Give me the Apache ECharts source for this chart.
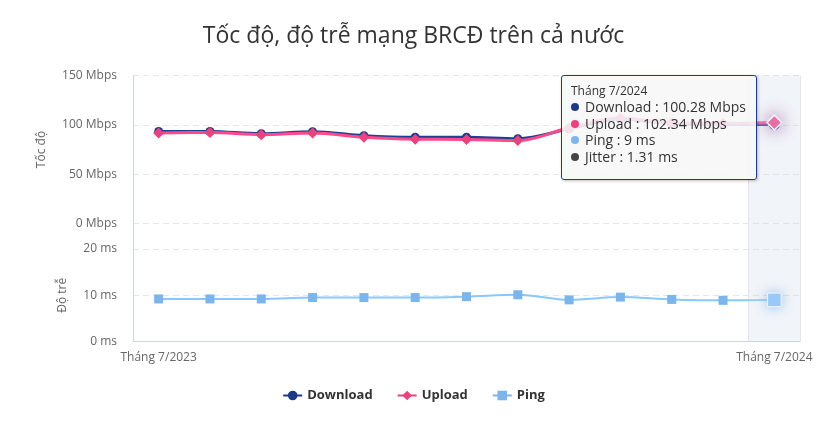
<!DOCTYPE html>
<html>
<head>
<meta charset="utf-8">
<script src="https://cdn.jsdelivr.net/npm/echarts@6/dist/echarts.min.js"></script>
<style>
html,body{margin:0;padding:0;background:#fff;}
#chart{width:827px;height:421px;}
</style>
</head>
<body>
<div id="chart"></div>
<script>
const titleText = 'Tốc độ, độ trễ mạng BRCĐ trên cả nước';
const categories = ['Tháng 7/2023','Tháng 8/2023','Tháng 9/2023','Tháng 10/2023','Tháng 11/2023','Tháng 12/2023','Tháng 1/2024','Tháng 2/2024','Tháng 3/2024','Tháng 4/2024','Tháng 5/2024','Tháng 6/2024','Tháng 7/2024'];
const download = [93.3, 93.3, 91.0, 93.0, 89.0, 87.4, 87.4, 86.0, 96.0, 106.0, 101.0, 100.5, 100.28];
const upload   = [91.8, 92.2, 90.0, 91.8, 87.4, 85.4, 85.2, 84.0, 97.0, 107.0, 102.0, 101.5, 102.34];
const ping     = [9.2, 9.2, 9.2, 9.5, 9.5, 9.5, 9.7, 10.1, 9.0, 9.6, 9.1, 8.9, 9];
const jitter   = [null, null, null, null, null, null, null, null, null, null, null, null, 1.31];
const speedTicks = [0, 50, 100, 150];
const latencyTicks = [0, 10, 20];

const C_DL = '#1d3a86', C_UL = '#e8437f', C_PING = '#7cb5ec', C_JIT = '#434348';
const FONT = '"Open Sans", "Noto Sans", sans-serif';
const chart = echarts.init(document.getElementById('chart'), null, {renderer: 'canvas'});

const gridL = 133, gridR = 27;
const dot = c => '<span style="display:inline-block;width:8px;height:8px;border-radius:4px;background:' + c + ';margin-right:6px;vertical-align:1px"></span>';

const option = {
  backgroundColor: '#fff',
  animation: false,
  title: {
    text: titleText, left: 'center', top: 20,
    textStyle: {fontFamily: FONT, fontSize: 23, fontWeight: 'normal', color: '#333'}
  },
  legend: {
    top: 384, left: 'center', itemGap: 24, itemWidth: 19, itemHeight: 12,
    data: ['Download', 'Upload', 'Ping'],
    textStyle: {fontFamily: FONT, fontSize: 13, fontWeight: 'bold', color: '#333'}
  },
  axisPointer: {link: [{xAxisIndex: 'all'}]},
  tooltip: {
    trigger: 'axis', triggerOn: 'none', alwaysShowContent: true,
    backgroundColor: 'rgba(247,247,247,0.88)', borderColor: C_DL, borderWidth: 1,
    padding: [7, 10, 14, 9],
    extraCssText: 'border-radius:3px;box-shadow:1px 1px 3px rgba(0,0,0,0.25);',
    textStyle: {fontFamily: FONT, fontSize: 14, color: '#333'},
    position: function (point, params, dom, rect, size) {
      return [point[0] - size.contentSize[0] - 17, point[1] - 48];
    },
    formatter: function (params) {
      const i = params[0].dataIndex;
      return '<div style="font-size:12px;line-height:16px">' + categories[i] + '</div>' +
        '<div style="line-height:16.5px">' + dot(C_DL) + 'Download : ' + download[i] + ' Mbps<br>' +
        dot(C_UL) + 'Upload : ' + upload[i] + ' Mbps<br>' +
        dot(C_PING) + 'Ping : ' + ping[i] + ' ms<br>' +
        dot(C_JIT) + 'Jitter : ' + jitter[i] + ' ms</div>';
    }
  },
  grid: [
    {left: gridL, right: gridR, top: 75.5, height: 148},
    {left: gridL, right: gridR, top: 249, bottom: 79.5},
    {left: gridL, right: gridR, top: 75.5, bottom: 79.5}
  ],
  xAxis: [
    {type: 'category', gridIndex: 0, data: categories, boundaryGap: true,
     axisLine: {show: false}, axisTick: {show: false}, axisLabel: {show: false}, splitLine: {show: false},
     axisPointer: {type: 'none', label: {show: false}}},
    {type: 'category', gridIndex: 1, data: categories, boundaryGap: true,
     axisLine: {show: false}, axisTick: {show: false}, axisLabel: {show: false}, splitLine: {show: false},
     axisPointer: {type: 'none', label: {show: false}}},
    {type: 'category', gridIndex: 2, data: categories, boundaryGap: true, z: 0,
     axisLine: {show: true, lineStyle: {color: '#ccd6eb', width: 1}},
     axisTick: {show: false},
     axisLabel: {interval: 11, margin: 10, fontFamily: FONT, fontSize: 12, color: '#666'},
     splitLine: {show: true, lineStyle: {color: '#e6e6e6', width: 1}},
     axisPointer: {show: true, type: 'shadow', triggerTooltip: false, label: {show: false},
       shadowStyle: {color: 'rgba(204,214,235,0.28)'}}}
  ],
  yAxis: [
    {type: 'value', gridIndex: 0, min: speedTicks[0], max: speedTicks[speedTicks.length - 1], interval: 50,
     name: 'Tốc độ', nameLocation: 'middle', nameGap: 85, nameRotate: 90,
     nameTextStyle: {fontFamily: FONT, fontSize: 12, color: '#666'},
     axisLine: {show: false}, axisTick: {show: false},
     axisLabel: {margin: 16, fontFamily: FONT, fontSize: 12, color: '#666', formatter: v => v + ' Mbps'},
     splitLine: {show: true, lineStyle: {color: '#e6e6e6', type: [6, 4], width: 1}}},
    {type: 'value', gridIndex: 1, min: latencyTicks[0], max: latencyTicks[latencyTicks.length - 1], interval: 10,
     name: 'Độ trễ', nameLocation: 'middle', nameGap: 64, nameRotate: 90,
     nameTextStyle: {fontFamily: FONT, fontSize: 12, color: '#666'},
     axisLine: {show: false}, axisTick: {show: false},
     axisLabel: {margin: 16, fontFamily: FONT, fontSize: 12, color: '#666', formatter: v => v + ' ms'},
     splitLine: {show: true, lineStyle: {color: '#e6e6e6', type: [6, 4], width: 1}}},
    {type: 'value', gridIndex: 2, min: 0, max: 1, z: 0,
     axisLine: {show: true, lineStyle: {color: '#ccd6eb', width: 1}},
     axisTick: {show: false}, axisLabel: {show: false}, splitLine: {show: false}}
  ],
  series: [
    {name: 'Download', type: 'line', xAxisIndex: 0, yAxisIndex: 0, data: download,
     smooth: 0.35, symbol: 'circle', symbolSize: 9, showAllSymbol: true,
     lineStyle: {color: C_DL, width: 3}, itemStyle: {color: C_DL},
     emphasis: {scale: 1.3, itemStyle: {borderColor: '#fff', borderWidth: 1}}, z: 3},
    {name: 'Upload', type: 'line', xAxisIndex: 0, yAxisIndex: 0, data: upload,
     smooth: 0.35, symbol: 'diamond', symbolSize: 11, showAllSymbol: true,
     lineStyle: {color: C_UL, width: 3}, itemStyle: {color: C_UL},
     emphasis: {scale: 1.35, itemStyle: {borderColor: '#fff', borderWidth: 1.5,
       shadowBlur: 16, shadowColor: 'rgba(140,50,130,0.9)'}}, z: 4},
    {name: 'Ping', type: 'line', xAxisIndex: 1, yAxisIndex: 1, data: ping,
     smooth: 0.35, symbol: 'rect', symbolSize: 9, showAllSymbol: true,
     lineStyle: {color: C_PING, width: 2}, itemStyle: {color: C_PING},
     emphasis: {scale: 1.5, itemStyle: {borderColor: '#fff', borderWidth: 1,
       shadowBlur: 12, shadowColor: 'rgba(124,181,236,0.9)'}}, z: 3}
  ]
};
chart.setOption(option);
const last = categories.length - 1;
chart.dispatchAction({type: 'highlight', seriesIndex: [0, 1, 2], dataIndex: last});
chart.dispatchAction({type: 'showTip', seriesIndex: 1, dataIndex: last});
</script>
</body>
</html>
